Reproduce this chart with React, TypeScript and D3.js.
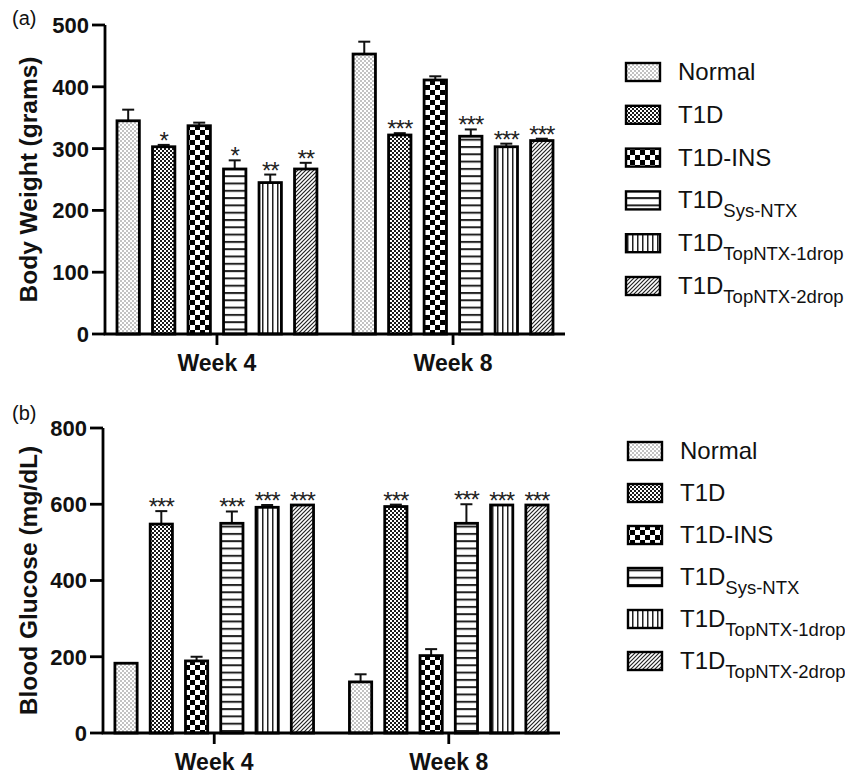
import React from "react";
import * as d3 from "d3";

// ---------- data ----------
const groups = ["Week 4", "Week 8"];
const seriesBase = ["Normal", "T1D", "T1D-INS", "T1D", "T1D", "T1D"];
const seriesSub = ["", "", "", "Sys-NTX", "TopNTX-1drop", "TopNTX-2drop"];

const weightMeanW4 = [345, 303, 337, 267, 245, 267];
const weightErrW4 = [18, 3, 5, 14, 13, 10];
const weightMeanW8 = [453, 322, 411, 320, 303, 313];
const weightErrW8 = [20, 3, 6, 11, 5, 3];
const weightStarsW4 = ["", "*", "", "*", "**", "**"];
const weightStarsW8 = ["", "***", "", "***", "***", "***"];
const weightTicks = [0, 100, 200, 300, 400, 500];

const glucoseMeanW4 = [183, 548, 189, 550, 592, 598];
const glucoseErrW4 = [0, 34, 11, 31, 6, 0];
const glucoseMeanW8 = [134, 594, 203, 550, 598, 598];
const glucoseErrW8 = [20, 5, 17, 50, 0, 0];
const glucoseStarsW4 = ["", "***", "", "***", "***", "***"];
const glucoseStarsW8 = ["", "***", "", "***", "***", "***"];
const glucoseTicks = [0, 200, 400, 600, 800];

const patternIds = ["pNormal", "pT1D", "pINS", "pSys", "pTop1", "pTop2"];
const FONT = "'Liberation Sans', Arial, Helvetica, sans-serif";

function Patterns() {
  return (
    <defs>
      <pattern id="pNormal" patternUnits="userSpaceOnUse" width={4} height={4}>
        <rect width={4} height={4} fill="#fff" />
        <circle cx={1} cy={1} r={0.75} fill="#666" />
        <circle cx={3} cy={3} r={0.75} fill="#666" />
      </pattern>
      <pattern id="pT1D" patternUnits="userSpaceOnUse" width={4} height={4}>
        <rect width={4} height={4} fill="#fff" />
        <rect x={0} y={0} width={2} height={2} fill="#1a1a1a" />
        <rect x={2} y={2} width={2} height={2} fill="#1a1a1a" />
      </pattern>
      <pattern id="pINS" patternUnits="userSpaceOnUse" width={10} height={10}>
        <rect width={10} height={10} fill="#fff" />
        <rect x={0} y={0} width={5} height={5} fill="#000" />
        <rect x={5} y={5} width={5} height={5} fill="#000" />
      </pattern>
      <pattern id="pSys" patternUnits="userSpaceOnUse" width={10} height={7.3}>
        <rect width={10} height={7.3} fill="#fff" />
        <rect x={0} y={0} width={10} height={2} fill="#222" />
      </pattern>
      <pattern id="pTop1" patternUnits="userSpaceOnUse" width={5} height={10}>
        <rect width={5} height={10} fill="#fff" />
        <rect x={2} y={0} width={1.5} height={10} fill="#222" />
      </pattern>
      <pattern id="pTop2" patternUnits="userSpaceOnUse" width={4} height={4}>
        <rect width={4} height={4} fill="#fff" />
        <path d="M-1,1 L1,-1 M0,4 L4,0 M3,5 L5,3" stroke="#222" strokeWidth={1.2} />
      </pattern>
    </defs>
  );
}

type PanelProps = {
  tag: string;
  tagY: number;
  yLabel: string;
  x0: number;
  x1: number;
  yTop: number;
  yBase: number;
  maxV: number;
  ticks: number[];
  means: number[][];
  errs: number[][];
  stars: string[][];
  starDy: number;
  legendX: number;
  legendY0: number;
  legendStep: number;
};

function Panel(p: PanelProps) {
  const y = d3.scaleLinear().domain([0, p.maxV]).range([p.yBase, p.yTop]);
  const xg = d3
    .scaleBand<string>()
    .domain(groups)
    .range([p.x0, p.x1])
    .paddingInner(0.0975)
    .paddingOuter(0.023);
  const xs = d3
    .scaleBand<number>()
    .domain(d3.range(seriesBase.length))
    .range([0, xg.bandwidth()])
    .paddingInner(0.37)
    .paddingOuter(0.185);
  const bw = xs.bandwidth();
  const axisW = 2.8;

  return (
    <g fontFamily={FONT}>
      <text x={12} y={p.tagY} fontSize={20} fill="#111">
        {p.tag}
      </text>
      <text
        transform={`translate(37,${(p.yTop + p.yBase) / 2}) rotate(-90)`}
        textAnchor="middle"
        fontSize={24.5}
        fontWeight="bold"
        fill="#111"
      >
        {p.yLabel}
      </text>
      {/* bars */}
      {groups.map((g, gi) =>
        p.means[gi].map((m, si) => {
          const bx = (xg(g) as number) + (xs(si) as number);
          const top = y(m);
          const errTop = y(m + p.errs[gi][si]);
          const cx = bx + bw / 2;
          return (
            <g key={`${g}-${si}`}>
              {p.errs[gi][si] > 0 && (
                <g stroke="#111" strokeWidth={2}>
                  <line x1={cx} x2={cx} y1={top} y2={errTop} />
                  <line x1={cx - 6} x2={cx + 6} y1={errTop} y2={errTop} />
                </g>
              )}
              <rect
                x={bx}
                y={top}
                width={bw}
                height={p.yBase - top}
                fill={`url(#${patternIds[si]})`}
                stroke="#000"
                strokeWidth={2.8}
              />
              {p.stars[gi][si] && (
                <text
                  x={cx}
                  y={errTop + p.starDy}
                  textAnchor="middle"
                  fontSize={24}
                  letterSpacing={-1}
                  fill="#222"
                >
                  {p.stars[gi][si]}
                </text>
              )}
            </g>
          );
        })
      )}
      {/* y axis */}
      <line x1={p.x0} x2={p.x0} y1={p.yTop} y2={p.yBase} stroke="#000" strokeWidth={axisW} />
      {p.ticks.map((t) => (
        <g key={t}>
          <line x1={p.x0 - 13} x2={p.x0} y1={y(t)} y2={y(t)} stroke="#000" strokeWidth={axisW} />
          <text
            x={p.x0 - 16}
            y={y(t)}
            dy="0.36em"
            textAnchor="end"
            fontSize={22}
            fontWeight="bold"
            fill="#111"
          >
            {t}
          </text>
        </g>
      ))}
      {/* x axis */}
      <line x1={p.x0 - 1.4} x2={p.x1} y1={p.yBase} y2={p.yBase} stroke="#000" strokeWidth={axisW} />
      {groups.map((g) => {
        const cx = (xg(g) as number) + xg.bandwidth() / 2;
        return (
          <g key={g}>
            <line x1={cx} x2={cx} y1={p.yBase} y2={p.yBase + 11} stroke="#000" strokeWidth={axisW} />
            <text x={cx} y={p.yBase + 37} textAnchor="middle" fontSize={23} fontWeight="bold" fill="#111">
              {g}
            </text>
          </g>
        );
      })}
      {/* legend */}
      {seriesBase.map((s, si) => {
        const cy = p.legendY0 + si * p.legendStep;
        return (
          <g key={si}>
            <rect
              x={p.legendX}
              y={cy - 9}
              width={34}
              height={18}
              fill={`url(#${patternIds[si]})`}
              stroke="#000"
              strokeWidth={2.4}
            />
            <text x={p.legendX + 52} y={cy + 8} fontSize={24} fill="#111">
              {s}
              {seriesSub[si] && (
                <tspan fontSize={18.5} dy={9}>
                  {seriesSub[si]}
                </tspan>
              )}
            </text>
          </g>
        );
      })}
    </g>
  );
}

export default function App() {
  return (
    <svg
      width={845}
      height={776}
      viewBox="0 0 845 776"
      style={{ position: "absolute", left: 0, top: 0, background: "#fff" }}
    >
      <rect width={845} height={776} fill="#fff" />
      <Patterns />
      <Panel
        tag="(a)"
        tagY={25}
        yLabel="Body Weight (grams)"
        x0={105}
        x1={565}
        yTop={25}
        yBase={334}
        maxV={500}
        ticks={weightTicks}
        means={[weightMeanW4, weightMeanW8]}
        errs={[weightErrW4, weightErrW8]}
        stars={[weightStarsW4, weightStarsW8]}
        starDy={4}
        legendX={626}
        legendY0={72}
        legendStep={42.8}
      />
      <Panel
        tag="(b)"
        tagY={420}
        yLabel="Blood Glucose (mg/dL)"
        x0={103}
        x1={560}
        yTop={428}
        yBase={733}
        maxV={800}
        ticks={glucoseTicks}
        means={[glucoseMeanW4, glucoseMeanW8]}
        errs={[glucoseErrW4, glucoseErrW8]}
        stars={[glucoseStarsW4, glucoseStarsW8]}
        starDy={4}
        legendX={628}
        legendY0={451}
        legendStep={42}
      />
    </svg>
  );
}
